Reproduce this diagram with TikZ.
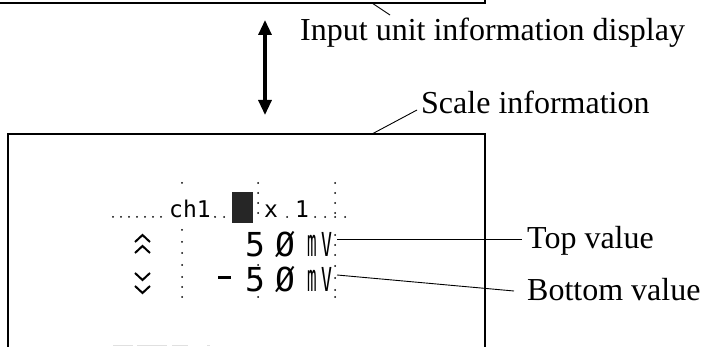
\documentclass[tikz,border=0pt]{standalone}
\usepackage{fontspec}
\setmainfont{Liberation Serif}
\newfontfamily\lcdfont{DejaVu Sans Mono}
\usepackage{graphicx}
\usetikzlibrary{arrows.meta}
\begin{document}
\begin{tikzpicture}[x=1pt,y=-1pt,
  boxline/.style={line width=1.4pt},
  leader/.style={line width=0.9pt},
  lbl/.style={anchor=base west,inner sep=0pt,font=\fontsize{32}{32}\selectfont},
  lcdsmall/.style={anchor=base,inner sep=0pt,font=\lcdfont\fontsize{23}{23}\selectfont},
  lcdbig/.style={anchor=base,inner sep=0pt,font=\lcdfont\fontsize{33}{33}\selectfont},
  lcddot/.style={fill=black,circle,inner sep=0pt,minimum size=2pt},
  chev/.style={line width=2pt,line join=miter}]
\useasboundingbox (0,0) rectangle (710,347);
% upper box (bottom edge only visible)
\draw[boxline] (0,3) -- (485,3) -- (485,0);
% lower box
\draw[boxline] (8,347) -- (8,134) -- (485,134) -- (485,347);
% labels
\node[lbl] (inp) at (300,41) {Input unit information display};
\node[lbl] (scl) at (421,114) {Scale information};
\node[lbl] (topv) at (527,249) {Top value};
\node[lbl] (botv) at (527,301) {Bottom value};
% leaders
\coordinate (inpA) at (372,3);
\coordinate (inpB) at (390,15);
\draw[leader] (inpA) -- (inpB);
\coordinate (sclA) at (372,134);
\coordinate (sclB) at (417,110);
\draw[leader] (sclA) -- (sclB);
\coordinate (topA) at (337,239);
\coordinate (topB) at (522,239);
\draw[leader] (topA) -- (topB);
\coordinate (botA) at (337,275);
\coordinate (botB) at (514,291);
\draw[leader] (botA) -- (botB);
% double arrow
\coordinate (arrT) at (265,20);
\coordinate (arrB) at (265,115);
\draw[line width=3.2pt,{Triangle[length=15pt,width=13pt]}-{Triangle[length=15pt,width=13pt]}] (arrT) -- (arrB);
% LCD dotted grid
\foreach \x in {113,121,...,161,215,224,287,315,325,335,345}
  \node[lcddot] at (\x,217) {};
\foreach \y in {183,230,242,253,265,277,287,297}
  \node[lcddot] at (182,\y) {};
\foreach \y in {183,193,203,213,265,276,287,297}
  \node[lcddot] at (258,\y) {};
\foreach \y in {183,193,203,213,235,245,255,266,278,290,297}
  \node[lcddot] at (335,\y) {};
% LCD header row
\node[lcdsmall] (ch) at (190,218) {ch1};
\fill[black!85] (232,192) rectangle (253,223);
\node[lcdsmall] (xx) at (271,218) {x};
\node[lcdsmall] (one) at (302,218) {1};
% chevrons
\draw[chev] (135,242) -- (142.5,235) -- (150,242);
\draw[chev] (135,253) -- (142.5,246) -- (150,253);
\draw[chev] (135,273) -- (142.5,280) -- (150,273);
\draw[chev] (135,286) -- (142.5,293) -- (150,286);
% row 1
\node[lcdbig] (d1) at (255,257) {5};
\node[lcdbig] (z1) at (285,257) {\O};
\node[lcdbig] (m1) at (312,257) {\scalebox{0.48}[1.15]{m}};
\node[lcdbig] (v1) at (326.5,257) {\scalebox{0.55}[1]{V}};
% row 2
\draw[line width=3pt] (218,278) -- (231,278);
\node[lcdbig] (d2) at (255,292) {5};
\node[lcdbig] (z2) at (285,292) {\O};
\node[lcdbig] (m2) at (312,292) {\scalebox{0.48}[1.15]{m}};
\node[lcdbig] (v2) at (326.5,292) {\scalebox{0.55}[1]{V}};
% faint remnants at the bottom
\foreach \a/\b in {113/133,137/167,172/188,207/210}
  \draw[black!12,line width=0.8pt] (\a,345) -- (\b,345);
\end{tikzpicture}
\end{document}
